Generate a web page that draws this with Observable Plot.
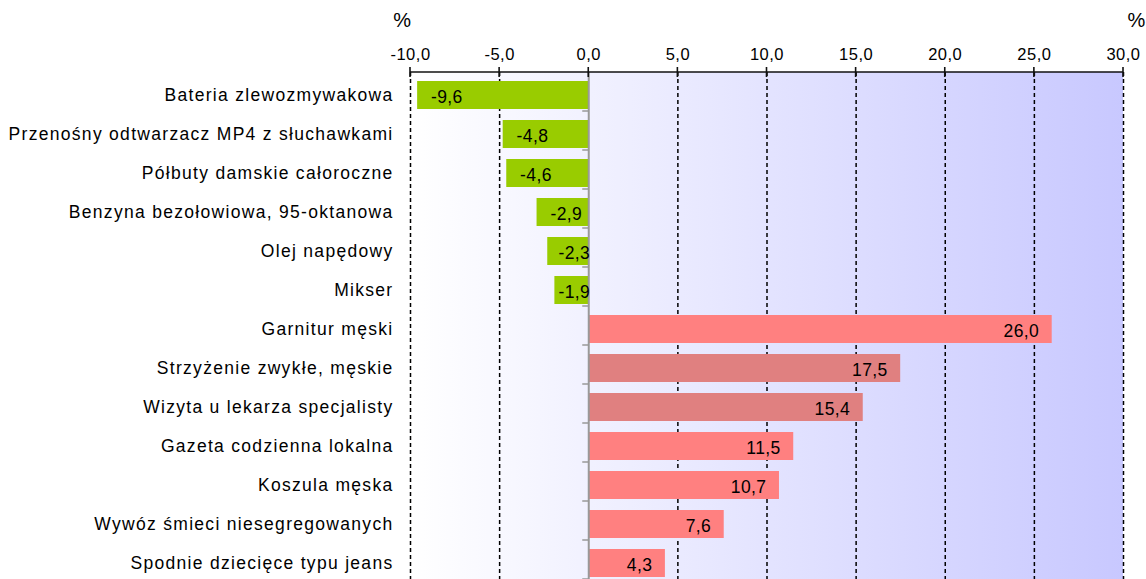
<!DOCTYPE html>
<html><head><meta charset="utf-8">
<script src="https://cdn.jsdelivr.net/npm/d3@7"></script>
<script src="https://cdn.jsdelivr.net/npm/@observablehq/plot@0.6"></script>
<style>
html,body{margin:0;padding:0;background:#fff;overflow:hidden;}
#chart svg{font-family:"Liberation Sans",Arial,sans-serif;background:#fff;}
</style></head><body><div id="chart"></div>
<script>
const categories = [
  "Bateria zlewozmywakowa",
  "Przenośny odtwarzacz MP4 z słuchawkami",
  "Półbuty damskie całoroczne",
  "Benzyna bezołowiowa, 95-oktanowa",
  "Olej napędowy",
  "Mikser",
  "Garnitur męski",
  "Strzyżenie zwykłe, męskie",
  "Wizyta u lekarza specjalisty",
  "Gazeta codzienna lokalna",
  "Koszula męska",
  "Wywóz śmieci niesegregowanych",
  "Spodnie dziecięce typu jeans"
];
const values = [-9.6, -4.8, -4.6, -2.9, -2.3, -1.9, 26.0, 17.5, 15.4, 11.5, 10.7, 7.6, 4.3];
const groups = ["spadek","spadek","spadek","spadek","spadek","spadek","wzrost","usługa","usługa","wzrost","wzrost","wzrost","wzrost"];
const xTicks = [-10, -5, 0, 5, 10, 15, 20, 25, 30];
const unitLabel = "%";

const rows = categories.map((c, i) => ({category: c, value: values[i], group: groups[i]}));
const fmt = d => d.toFixed(1).replace(".", ",");
const gridTicks = xTicks.filter(d => d !== 0);

const background = (index, scales, vals, dims) => {
  const g = d3.create("svg:g");
  const grad = g.append("defs").append("linearGradient")
    .attr("id", "bgGrad").attr("x1", "0").attr("x2", "1").attr("y1", "0").attr("y2", "0");
  grad.append("stop").attr("offset", "0").attr("stop-color", "#ffffff");
  grad.append("stop").attr("offset", "1").attr("stop-color", "#c8c8ff");
  g.append("rect")
    .attr("x", dims.marginLeft).attr("y", dims.marginTop)
    .attr("width", dims.width - dims.marginLeft - dims.marginRight)
    .attr("height", dims.height - dims.marginTop - dims.marginBottom)
    .attr("fill", "url(#bgGrad)");
  return g.node();
};

const topAxisLine = (index, {x}, vals, dims) => {
  const g = d3.create("svg:g");
  const y0 = dims.marginTop;
  g.append("line").attr("x1", x(xTicks[0])).attr("x2", x(xTicks[xTicks.length - 1]))
    .attr("y1", y0).attr("y2", y0).attr("stroke", "#111").attr("stroke-width", 1.6);
  for (const t of xTicks) {
    g.append("line").attr("x1", x(t)).attr("x2", x(t)).attr("y1", y0 - 5).attr("y2", y0 + 5)
      .attr("stroke", "#111").attr("stroke-width", 1.6);
  }
  return g.node();
};

const zeroTicks = (index, {x, y}, vals, dims) => {
  const g = d3.create("svg:g");
  const step = y(categories[1]) - y(categories[0]);
  const x0 = x(0);
  for (let i = 1; i <= categories.length; i++) {
    const yy = dims.marginTop + step * i;
    g.append("line").attr("x1", x0 - 6).attr("x2", x0).attr("y1", yy).attr("y2", yy)
      .attr("stroke", "#999").attr("stroke-width", 1.5);
  }
  return g.node();
};

const chart = Plot.plot({
  width: 1146,
  height: 596,
  marginTop: 72,
  marginLeft: 410,
  marginRight: 23,
  marginBottom: 10,
  style: {fontFamily: '"Liberation Sans", Arial, sans-serif', color: "#000", background: "#fff"},
  x: {domain: [-10, 30], ticks: xTicks},
  y: {domain: categories, paddingInner: 0.27, paddingOuter: 0.135, label: null},
  color: {domain: ["spadek", "wzrost", "usługa"], range: ["#99cc00", "#ff8080", "#e08080"]},
  marks: [
    background,
    Plot.ruleX(gridTicks, {stroke: "#000", strokeWidth: 1.5, strokeDasharray: "4,3"}),
    Plot.barX(rows, {x: "value", y: "category", fill: "group"}),
    Plot.ruleX([0], {stroke: "#999", strokeWidth: 2}),
    zeroTicks,
    topAxisLine,
    Plot.axisX(xTicks, {anchor: "top", tickFormat: fmt, tickSize: 0, tickPadding: 13, fontSize: 16.5, label: null}),
    Plot.axisY({anchor: "left", tickSize: 0, tickPadding: 17, fontSize: 17.5, label: null}),
    Plot.text(rows.filter(d => d.value > 0), {x: "value", y: "category", text: d => fmt(d.value), textAnchor: "end", dx: -13, dy: 2, fontSize: 17.5, fill: "#000"}),
    Plot.text(rows.filter(d => d.value < 0), {x: d => Math.min(d.value + 0.75, -1.7), y: "category", text: d => fmt(d.value), textAnchor: "start", dy: 2, fontSize: 17.5, fill: "#000"}),
    Plot.text([unitLabel], {frameAnchor: "top-left", lineAnchor: "middle", textAnchor: "end", dx: 1, dy: -51.5, fontSize: 20, fill: "#000"}),
    Plot.text([unitLabel], {frameAnchor: "top-right", lineAnchor: "middle", textAnchor: "start", dx: 4, dy: -51.5, fontSize: 20, fill: "#000"})
  ]
});

const yl = chart.querySelector('g[aria-label="y-axis tick label"]');
if (yl) yl.style.letterSpacing = "1.3px";
const xl = chart.querySelector('g[aria-label="x-axis tick label"]');
if (xl) xl.style.letterSpacing = "0.5px";
chart.querySelectorAll('g[aria-label="text"]').forEach(g => g.style.letterSpacing = "0.4px");
document.getElementById("chart").appendChild(chart);
</script>
</body></html>
